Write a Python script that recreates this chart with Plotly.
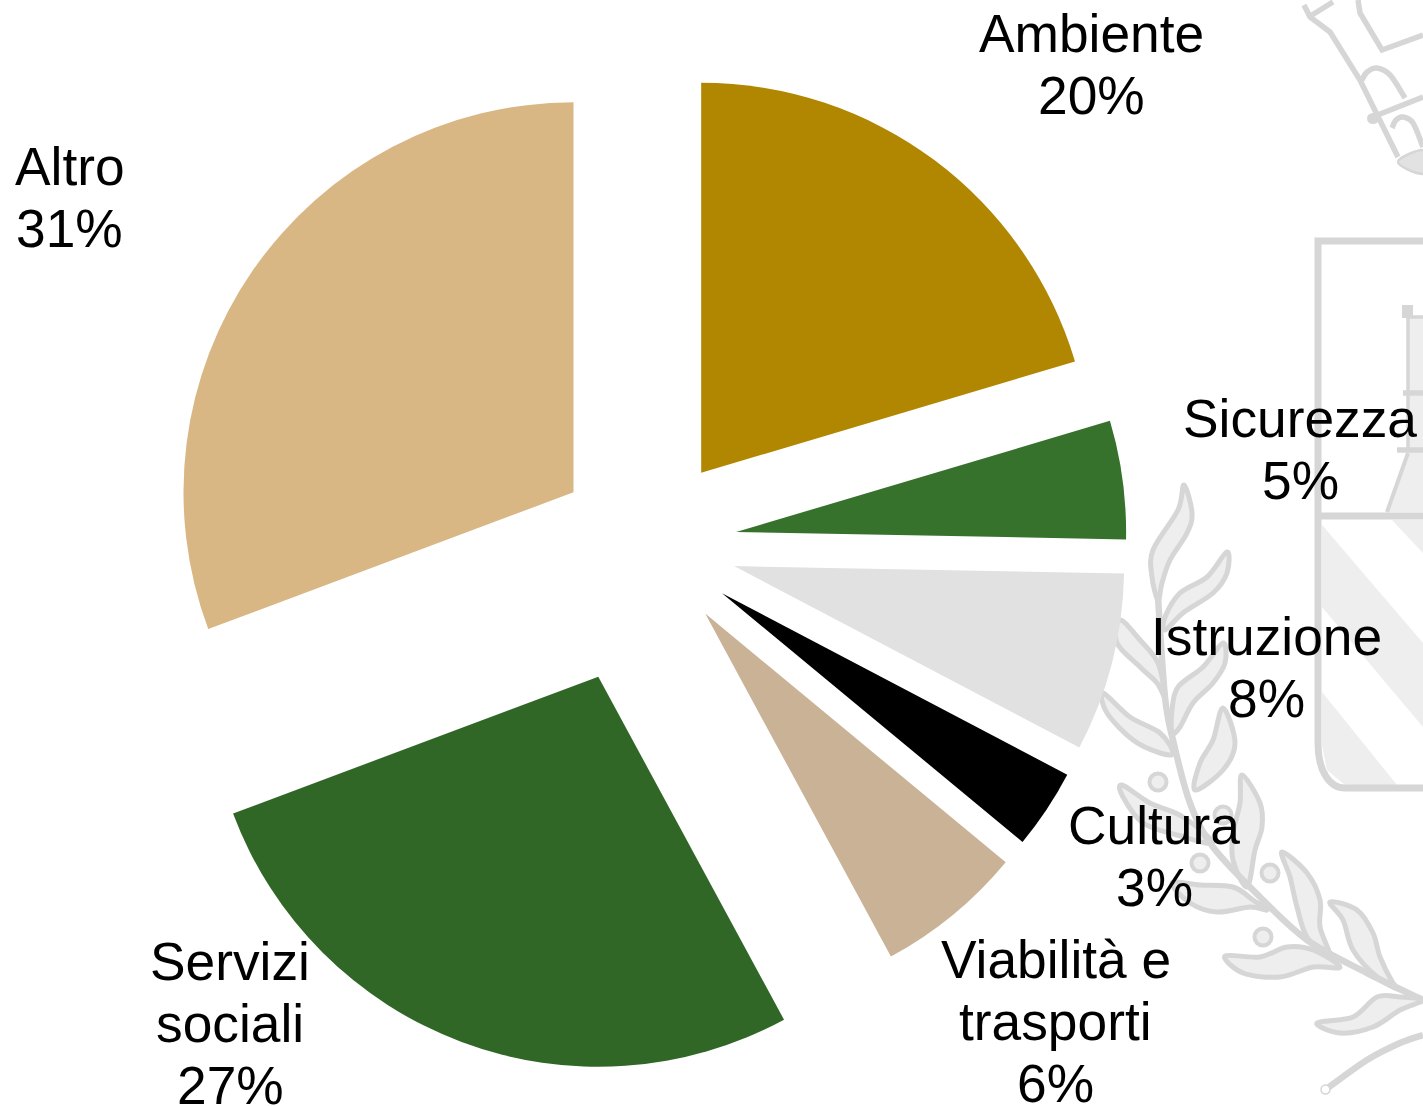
import plotly.graph_objects as go

W, H = 1423, 1106

# ---- chart data ----
categories = ["Ambiente", "Sicurezza", "Istruzione", "Cultura", "Viabilità e trasporti", "Servizi sociali", "Altro"]
values = [20.4, 4.9, 7.4, 3.3, 6.1, 27.2, 30.7]
percent_labels = ["20%", "5%", "8%", "3%", "6%", "27%", "31%"]
colors = ["#b18600", "#36722c", "#e1e1e1", "#000000", "#c9b296", "#306727", "#d8b784"]
pulls = [0.228, 0.228, 0.228, 0.228, 0.231, 0.3635, 0.2325]

label_lines = [
    ["Ambiente", "20%"], ["Sicurezza", "5%"], ["Istruzione", "8%"], ["Cultura", "3%"],
    ["Viabilità e", "trasporti", "6%"], ["Servizi", "sociali", "27%"], ["Altro", "31%"],
]
label_x = [1091, 1300, 1266, 1154, 1055.5, 230.5, 69.5]
label_y = [33.5, 418.5, 636.5, 825, 959.5, 961.5, 166.5]
label_step = 62
FONT = "Liberation Sans"
FONT_SIZE = 53.3

# ---- watermark (pixel coordinates of the page) ----
INK = "#d6d6d6"
PALE = "#eeeeee"
leaves = [
    [(1184, 485), (1178, 510), (1153, 550), (1152, 577), (1158, 600), (1162, 583), (1170, 560), (1187, 533), (1192, 513)],
    [(1227, 552), (1207, 577), (1180, 593), (1165, 617), (1165, 630), (1183, 613), (1213, 593), (1227, 573)],
    [(1120, 620), (1140, 640), (1158, 663), (1165, 697), (1157, 683), (1140, 667), (1117, 643)],
    [(1223, 643), (1203, 667), (1178, 687), (1172, 710), (1172, 733), (1180, 727), (1193, 703), (1213, 683), (1225, 663)],
    [(1103, 693), (1130, 717), (1160, 733), (1173, 753), (1160, 753), (1133, 740), (1107, 713)],
    [(1223, 708), (1213, 740), (1200, 763), (1195, 790), (1223, 770), (1235, 743)],
    [(1122, 785), (1150, 803), (1183, 817), (1213, 843), (1177, 835), (1143, 823), (1123, 797)],
    [(1242, 775), (1240, 803), (1233, 833), (1233, 860), (1247, 887), (1255, 850), (1262, 827), (1260, 803)],
    [(1172, 883), (1200, 885), (1233, 887), (1253, 900), (1267, 910), (1250, 907), (1217, 912), (1190, 903)],
    [(1282, 852), (1290, 877), (1297, 907), (1307, 937), (1330, 957), (1320, 927), (1320, 900), (1307, 873)],
    [(1225, 956), (1260, 957), (1287, 947), (1313, 950), (1340, 967), (1313, 967), (1280, 977), (1243, 973)],
    [(1330, 902), (1343, 920), (1353, 950), (1377, 977), (1400, 990), (1393, 983), (1380, 957), (1373, 933), (1357, 910)],
    [(1317, 1023), (1353, 1017), (1377, 997), (1400, 997), (1423, 1000), (1400, 1010), (1373, 1027), (1340, 1033)],
]
stems = [
    [(1158, 597), (1165, 697), (1173, 740), (1190, 803), (1213, 847), (1260, 897), (1307, 940), (1367, 973), (1423, 1000)],
    [(1325, 1090), (1367, 1060), (1400, 1043), (1423, 1035)],
]
berries = [(1158, 782), (1200, 863), (1270, 873), (1263, 937), (1223, 815)]
frame_lines = [
    [(1423, 241), (1318, 241), (1318, 743)],
    [(1318, 516), (1423, 516)],
    [(1345, 788), (1423, 788)],
]
crown_lines = [
    [(1304, 5), (1310, 17), (1330, 32), (1360, 80), (1398, 157)],
    [(1312, 15), (1333, 2)],
    [(1358, 0), (1360, 13), (1382, 50), (1423, 35)],
    [(1370, 118), (1423, 97)],
    [(1397, 450), (1423, 450)],
    [(1403, 393), (1423, 393)],
]
pale_polys = [
    [(1322, 525), (1423, 643), (1423, 727), (1322, 607)],
    [(1322, 692), (1397, 785), (1345, 785), (1327, 770), (1322, 745)],
    [(1392, 520), (1423, 553), (1423, 520)],
    [(1387, 512), (1408, 453), (1408, 317), (1423, 317), (1423, 512)],
]


def px(p):
    return f"{p[0] / W:.5f},{1 - p[1] / H:.5f}"


def smooth(points, closed):
    n = len(points)
    get = (lambda i: points[i % n]) if closed else (lambda i: points[max(0, min(n - 1, i))])
    d = "M" + px(points[0])
    for i in range(n if closed else n - 1):
        p0, p1, p2, p3 = get(i - 1), get(i), get(i + 1), get(i + 2)
        c1 = (p1[0] + (p2[0] - p0[0]) / 6, p1[1] + (p2[1] - p0[1]) / 6)
        c2 = (p2[0] - (p3[0] - p1[0]) / 6, p2[1] - (p3[1] - p1[1]) / 6)
        d += f" C{px(c1)} {px(c2)} {px(p2)}"
    return d + (" Z" if closed else "")


def poly(points, closed):
    d = "M" + " L".join(px(p) for p in points)
    return d + (" Z" if closed else "")


shapes = []
base = dict(type="path", xref="paper", yref="paper", layer="below")
for pts in pale_polys:
    shapes.append(dict(base, path=poly(pts, True), fillcolor=PALE, line=dict(width=0)))
for pts in frame_lines:
    shapes.append(dict(base, path=poly(pts, False), line=dict(color=INK, width=7)))
for pts in crown_lines:
    shapes.append(dict(base, path=poly(pts, False), line=dict(color=INK, width=5.5)))
# shield corner and tower details
shapes.append(dict(base, path=f"M{px((1318, 743))} C{px((1318, 772))} {px((1330, 788))} {px((1345, 788))}",
                   line=dict(color=INK, width=7)))
shapes.append(dict(base, path=poly([(1408, 450), (1408, 317), (1423, 317)], False), line=dict(color=INK, width=3.5)))
shapes.append(dict(base, path=poly([(1402, 305), (1413, 305), (1413, 318), (1402, 318)], True), fillcolor=INK, line=dict(width=0)))
shapes.append(dict(base, path=poly([(1387, 512), (1408, 453)], False), line=dict(color=INK, width=4)))
# crown arches and base
shapes.append(dict(base, path=smooth([(1362, 80), (1367, 72), (1377, 68), (1390, 75), (1405, 98)], False), line=dict(color=INK, width=5.5)))
shapes.append(dict(base, path=smooth([(1392, 128), (1396, 120), (1403, 117), (1413, 123), (1423, 147)], False), line=dict(color=INK, width=5.5)))
shapes.append(dict(base, path=smooth([(1398, 162), (1423, 150), (1440, 162), (1423, 174)], True), fillcolor="#e2e2e2", line=dict(color=INK, width=2.5)))
shapes.append(dict(type="circle", xref="paper", yref="paper", layer="below",
                   x0=1367 / W, x1=1379 / W, y0=1 - 124 / H, y1=1 - 113 / H, fillcolor=INK, line=dict(width=0)))
# laurel
for pts in leaves:
    shapes.append(dict(base, path=smooth(pts, True), fillcolor=PALE, line=dict(color=INK, width=5)))
for pts in stems:
    shapes.append(dict(base, path=smooth(pts, False), line=dict(color=INK, width=6.5)))
shapes.append(dict(type="circle", xref="paper", yref="paper", layer="below",
                   x0=1321 / W, x1=1330 / W, y0=1 - 1094 / H, y1=1 - 1085 / H,
                   fillcolor="#ffffff", line=dict(color=INK, width=1.5)))
for cx_b, cy_b in berries:
    shapes.append(dict(type="circle", xref="paper", yref="paper", layer="below",
                       x0=(cx_b - 8.5) / W, x1=(cx_b + 8.5) / W, y0=1 - (cy_b + 8.5) / H, y1=1 - (cy_b - 8.5) / H,
                       fillcolor=PALE, line=dict(color=INK, width=4)))

annotations = []
for lines, x, y in zip(label_lines, label_x, label_y):
    for i, line in enumerate(lines):
        annotations.append(dict(text=line, x=x / W, y=1 - (y + i * label_step) / H, xref="paper", yref="paper",
                                xanchor="center", yanchor="middle", showarrow=False,
                                font=dict(family=FONT, size=FONT_SIZE, color="#000000")))

cx, cy, half = 648, 544, 390 * (1 + max(pulls))
fig = go.Figure(go.Pie(
    labels=categories, values=values, sort=False, direction="clockwise", rotation=0,
    pull=pulls, textinfo="none", showlegend=False, hoverinfo="label+percent",
    marker=dict(colors=colors, line=dict(width=0)),
    domain=dict(x=[(cx - half) / W, (cx + half) / W], y=[1 - (cy + half) / H, 1 - (cy - half) / H]),
))
fig.update_layout(width=W, height=H, margin=dict(l=0, r=0, t=0, b=0, autoexpand=False),
                  paper_bgcolor="#ffffff", plot_bgcolor="#ffffff", shapes=shapes, annotations=annotations,
                  font=dict(family=FONT))
fig.write_html("out.html", config=dict(displayModeBar=False),
               post_script="document.body.style.margin='0';document.body.style.overflow='hidden';")
